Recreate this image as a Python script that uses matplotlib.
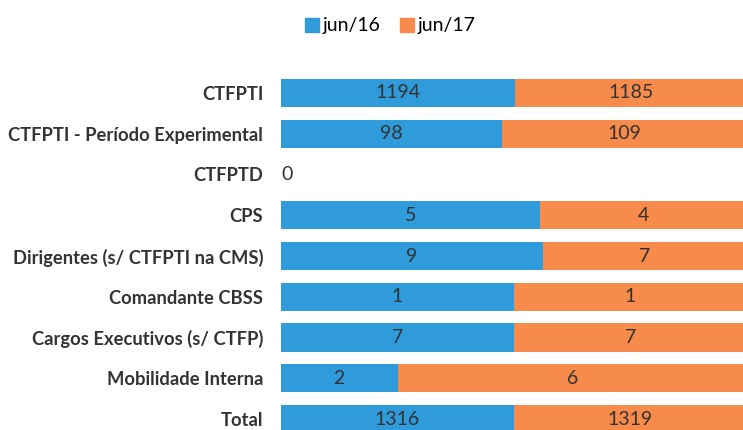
import matplotlib
matplotlib.use("Agg")
import matplotlib.pyplot as plt
from matplotlib.patches import Patch

categories = ["CTFPTI", "CTFPTI - Período Experimental", "CTFPTD", "CPS",
              "Dirigentes (s/ CTFPTI na CMS)", "Comandante CBSS",
              "Cargos Executivos (s/ CTFP)", "Mobilidade Interna", "Total"]
jun16 = [1194, 98, 0, 5, 9, 1, 7, 2, 1316]
jun17 = [1185, 109, 0, 4, 7, 1, 7, 6, 1319]
series_names = ["jun/16", "jun/17"]

blue = "#2F9BDA"
orange = "#F68B4C"
txt = "#333333"

W, H = 743, 430
fig = plt.figure(figsize=(W/100, H/100), dpi=100)
top = 1 - 72.6/H
bot = 1 - 439.4/H
left = 281/W
right = 747/W
ax = fig.add_axes([left, bot, right-left, top-bot])

ys = list(range(len(categories)))
f16, f17 = [], []
for a, b in zip(jun16, jun17):
    t = a + b
    f16.append(a/t if t else 0)
    f17.append(b/t if t else 0)

ax.barh(ys, f16, height=0.69, color=blue)
ax.barh(ys, f17, left=f16, height=0.69, color=orange)

font = ["Lato", "DejaVu Sans"]
for y, a, b, p, q in zip(ys, jun16, jun17, f16, f17):
    if a + b == 0:
        ax.text(0.0, y, "0", ha="left", va="center", fontsize=14,
                color=txt, family=font)
        continue
    ax.text(p/2, y, str(a), ha="center", va="center", fontsize=14,
            color=txt, family=font)
    ax.text(p + q/2, y, str(b), ha="center", va="center", fontsize=14,
            color=txt, family=font)

ax.set_xlim(0, 1)
ax.set_ylim(len(categories)-0.5, -0.5)
ax.set_yticks(ys)
ax.set_yticklabels(categories, fontsize=13.2, fontweight="bold", color=txt,
                   family=font)
ax.tick_params(axis="y", length=0, pad=12.7)
ax.set_xticks([])
for s in ax.spines.values():
    s.set_visible(False)

handles = [Patch(color=blue), Patch(color=orange)]
fig.legend(handles, series_names, loc="center", bbox_to_anchor=(390/W, 1-26/H),
           ncol=2, frameon=False, handlelength=0.75,
           handleheight=0.75, handletextpad=0.15, columnspacing=1.0,
           prop={"family": font, "size": 14})

fig.savefig("out.png", dpi=100)
